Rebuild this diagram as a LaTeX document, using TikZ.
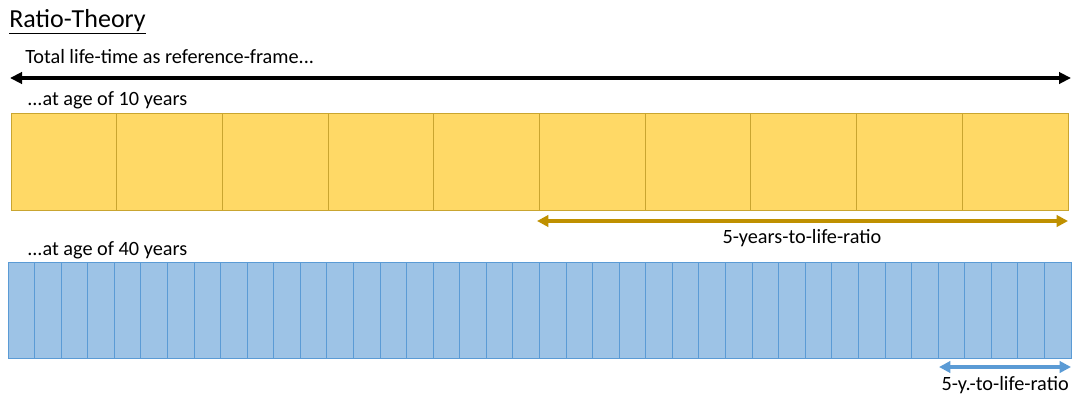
\documentclass[tikz,border=0pt]{standalone}
\usepackage{fontspec}
\setmainfont{Carlito}
\usetikzlibrary{arrows.meta}
\definecolor{goldfill}{HTML}{FFD966}
\definecolor{goldline}{HTML}{C9A530}
\definecolor{goldarrow}{HTML}{BF9000}
\definecolor{bluefill}{HTML}{9DC3E6}
\definecolor{blueline}{HTML}{5B9BD5}
\begin{document}
\begin{tikzpicture}[x=0.75pt,y=-0.75pt,
  lbl/.style={inner sep=0pt, font=\fontsize{15.2}{18}\selectfont},
  ycell/.style={fill=goldfill, draw=goldline, line width=0.7pt},
  bcell/.style={fill=bluefill, draw=blueline, line width=0.7pt},
  bigarrow/.style={line width=2.5pt, {Triangle[length=9pt,width=8.5pt]}-{Triangle[length=9pt,width=8.5pt]}},
  smallarrow/.style={line width=3pt, {Triangle[length=8.5pt,width=8.5pt]}-{Triangle[length=8.5pt,width=8.5pt]}}]
\useasboundingbox (0,0) rectangle (1084,400);
% title
\node[anchor=base west, inner sep=0pt, font=\fontsize{19.5}{22}\selectfont] (title) at (9,27) {\underline{Ratio-Theory}};
% total lifetime
\node[lbl, anchor=base west] (total) at (25,63) {Total life-time as reference-frame...};
\coordinate (tl) at (10,78);
\coordinate (tr) at (1071,78);
\draw[bigarrow, black] (tl) -- (tr);
% age 10
\node[lbl, anchor=base west] (age10) at (27,105) {...at age of 10 years};
\foreach \i in {0,...,9} {
  \draw[ycell] ({11+\i*105.7},113) rectangle ({11+(\i+1)*105.7},210);
}
\coordinate (ya) at (537,221);
\coordinate (yb) at (1068,221);
\draw[smallarrow, goldarrow] (ya) -- (yb);
\node[lbl, anchor=base] (ylab) at (802,243) {5-years-to-life-ratio};
% age 40
\node[lbl, anchor=base west] (age40) at (27,255) {...at age of 40 years};
\foreach \i in {0,...,39} {
  \draw[bcell] ({8+\i*26.575},262) rectangle ({8+(\i+1)*26.575},358);
}
\coordinate (ba) at (939,367);
\coordinate (bb) at (1071,367);
\draw[smallarrow, blueline] (ba) -- (bb);
\node[lbl, anchor=base east] (blab) at (1069,390) {5-y.-to-life-ratio};
\end{tikzpicture}
\end{document}
